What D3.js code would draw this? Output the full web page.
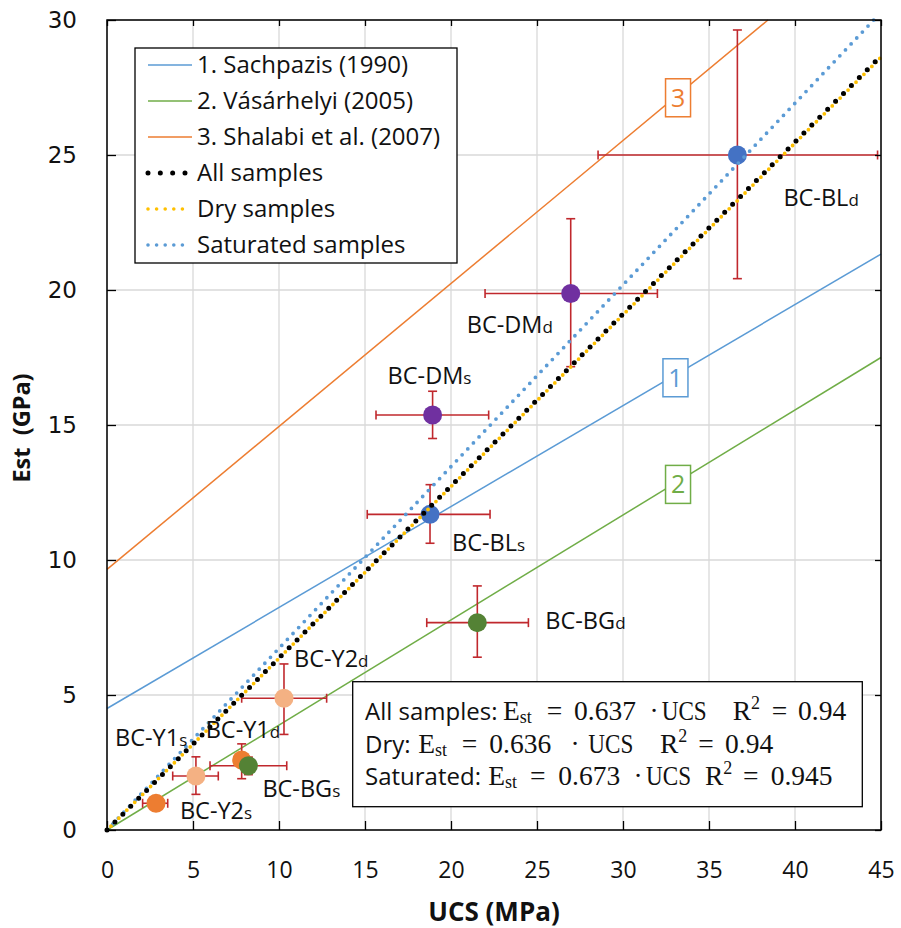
<!DOCTYPE html>
<html><head><meta charset="utf-8">
<script src="https://cdn.jsdelivr.net/npm/d3@7"></script>
<style>body{margin:0;background:#fff}svg{display:block}</style>
</head><body>
<svg id="c" width="901" height="928"></svg>
<script>
// ---------- DATA ----------
const sampleNames = ["BC-BL","BC-DM","BC-DM","BC-BL","BC-BG","BC-Y2","BC-Y1","BC-BG","BC-Y2","BC-Y1"];
const sampleSubs  = ["d","d","s","s","d","d","d","s","s","s"];
const sampleGroup = ["BL","DM","DM","BL","BG","Y2","Y1","BG","Y2","Y1"];
const ucs    = [36.65, 26.96, 18.93, 18.78, 21.53, 10.29, 7.83, 8.22, 5.17, 2.85];
const est    = [25.00, 19.87, 15.37, 11.69,  7.68,  4.88, 2.59, 2.38, 2.00, 0.99];
const ucsLo  = [28.55, 21.98, 15.64, 15.13, 18.59,  7.83, 7.45, 5.99, 3.82, 2.07];
const ucsHi  = [44.80, 32.00, 22.19, 22.27, 24.50, 12.77, 8.25, 10.45, 6.47, 3.53];
const estLo  = [20.42, 17.16, 14.50, 10.62,  6.40,  3.54, 1.90, 2.05, 1.32, 0.80];
const estHi  = [29.63, 22.64, 16.25, 12.79,  9.04,  6.15, 3.19, 2.70, 2.71, 1.20];

const refNames = ["1. Sachpazis (1990)","2. Vásárhelyi (2005)","3. Shalabi et al. (2007)"];
const refNums  = ["1","2","3"];
const refX = [[0,45],[0,45],[0,38.43]];
const refY = [[4.5,21.33],[0,17.5],[9.65,30]];
const refLabelX = [33.05, 33.2, 33.2];

const fitNames = ["All samples","Dry samples","Saturated samples"];
const fitX = [[0,45],[0,45],[0,44.58]];
const fitY = [[0,28.67],[0,28.62],[0,30]];

const eqnLabels = ["All samples:","Dry:","Saturated:"];
const eqnCoef   = ["0.637","0.636","0.673"];
const eqnR2     = ["0.94","0.94","0.945"];

const xTicks = [0,5,10,15,20,25,30,35,40,45];
const yTicks = [0,5,10,15,20,25,30];
const xTitle = "UCS (MPa)";
const yTitle = "Est\u00a0\u00a0(GPa)";

// ---------- LAYOUT / STYLE ----------
const svg = d3.select("#c");
const L=107,R=881,T=20,B=830;
const x = d3.scaleLinear().domain([0,45]).range([L,R]);
const y = d3.scaleLinear().domain([0,30]).range([B,T]);
const sans = "'Open Sans', 'Noto Sans', sans-serif";
const serif = "'Liberation Serif', 'DejaVu Serif', serif";
const groupColor = d3.scaleOrdinal().domain(["BL","DM","BG","Y1","Y2"])
  .range(["#4472C4","#7030A0","#548235","#ED7D31","#F4B183"]);
const refColors = ["#5B9BD5","#70AD47","#ED7D31"];
const errColor = "#C0282D";

// gridlines
const grid = svg.append("g");
grid.selectAll("line.gx").data(xTicks).join("line")
  .attr("x1",d=>x(d)).attr("x2",d=>x(d)).attr("y1",T).attr("y2",B)
  .attr("stroke","#d9d9d9").attr("stroke-width",1.3);
grid.selectAll("line.gy").data(yTicks).join("line")
  .attr("x1",L).attr("x2",R).attr("y1",d=>y(d)).attr("y2",d=>y(d))
  .attr("stroke","#d9d9d9").attr("stroke-width",1.3);

const line = d3.line().x(d=>x(d[0])).y(d=>y(d[1]));
const pairs = (xs,ys)=>xs.map((v,i)=>[v,ys[i]]);

// reference lines
svg.append("g").selectAll("path").data(refNames).join("path")
  .attr("d",(d,i)=>line(pairs(refX[i],refY[i])))
  .attr("fill","none").attr("stroke",(d,i)=>refColors[i]).attr("stroke-width",1.5);

// error bars
const eb = svg.append("g").attr("stroke",errColor).attr("stroke-width",1.6).attr("fill","none");
const cap = 4.5;
ucs.forEach((u,i)=>{
  const g = eb.append("g");
  g.append("line").attr("x1",x(ucsLo[i])).attr("x2",x(ucsHi[i])).attr("y1",y(est[i])).attr("y2",y(est[i]));
  g.append("line").attr("x1",x(ucsLo[i])).attr("x2",x(ucsLo[i])).attr("y1",y(est[i])-cap).attr("y2",y(est[i])+cap);
  g.append("line").attr("x1",x(ucsHi[i])).attr("x2",x(ucsHi[i])).attr("y1",y(est[i])-cap).attr("y2",y(est[i])+cap);
  g.append("line").attr("x1",x(u)).attr("x2",x(u)).attr("y1",y(estLo[i])).attr("y2",y(estHi[i]));
  g.append("line").attr("x1",x(u)-cap).attr("x2",x(u)+cap).attr("y1",y(estLo[i])).attr("y2",y(estLo[i]));
  g.append("line").attr("x1",x(u)-cap).attr("x2",x(u)+cap).attr("y1",y(estHi[i])).attr("y2",y(estHi[i]));
});

// points
svg.append("g").selectAll("circle").data(ucs).join("circle")
  .attr("cx",d=>x(d)).attr("cy",(d,i)=>y(est[i])).attr("r",9.5)
  .attr("fill",(d,i)=>groupColor(sampleGroup[i]));

// fit lines (saturated, dry, all — drawn in that order)
const fitStroke = ["#000000","#FFC000","#5B9BD5"];
const fitWidth  = [5, 3.8, 3.8];
const fitDash   = ["0 11.2","0 5.6","0 8.2"];
const fitG = svg.append("g");
[2,1,0].forEach(i=>{
  fitG.append("path").attr("d",line(pairs(fitX[i],fitY[i])))
    .attr("fill","none").attr("stroke",fitStroke[i])
    .attr("stroke-width",fitWidth[i])
    .attr("stroke-dasharray",fitDash[i])
    .attr("stroke-linecap","round");
});

// numbered boxes on reference lines
refNums.forEach((n,i)=>{
  const xv = refLabelX[i];
  const t = (xv-refX[i][0])/(refX[i][1]-refX[i][0]);
  const yv = refY[i][0] + t*(refY[i][1]-refY[i][0]);
  const cx = x(xv), cy = y(yv)+3;
  svg.append("rect").attr("x",cx-12.5).attr("y",cy-19).attr("width",25).attr("height",38)
    .attr("fill","#fff").attr("stroke",refColors[i]).attr("stroke-width",1.5);
  svg.append("text").attr("x",cx).attr("y",cy+9).attr("text-anchor","middle")
    .attr("font-family",sans).attr("font-size",25).attr("fill",refColors[i]).text(n);
});

// point labels
const labelOff = [[46,51],[-104,39],[-45,-31],[22,37],[68,6],[10,-31],[-36,-22],[14,31],[-16,43],[-41,-57]];
sampleNames.forEach((nm,i)=>{
  const t = svg.append("text").attr("x",x(ucs[i])+labelOff[i][0]).attr("y",y(est[i])+labelOff[i][1])
    .attr("font-family",sans).attr("font-size",23.5).attr("fill","#111");
  t.append("tspan").text(nm);
  t.append("tspan").attr("font-size",17).text(sampleSubs[i]);
});

// legend
const lg = svg.append("g");
lg.append("rect").attr("x",135).attr("y",48).attr("width",322).attr("height",215)
  .attr("fill","#fff").attr("stroke","#000").attr("stroke-width",1.3);
const legNames = refNames.concat(fitNames);
legNames.forEach((nm,i)=>{
  const cy = 65 + i*36;
  if(i<3){
    lg.append("line").attr("x1",148).attr("x2",192).attr("y1",cy).attr("y2",cy)
      .attr("stroke",refColors[i]).attr("stroke-width",1.5);
  } else if(i===3){
    lg.append("line").attr("x1",148).attr("x2",185).attr("y1",cy).attr("y2",cy)
      .attr("stroke","#000").attr("stroke-width",5).attr("stroke-dasharray","0 12.33").attr("stroke-linecap","round");
  } else {
    lg.append("line").attr("x1",148).attr("x2",191).attr("y1",cy).attr("y2",cy)
      .attr("stroke",i===4?"#FFC000":"#5B9BD5").attr("stroke-width",3.6).attr("stroke-dasharray","0 8.6").attr("stroke-linecap","round");
  }
  lg.append("text").attr("x",197).attr("y",cy+8).attr("font-family",sans).attr("font-size",24)
    .attr("fill","#111").text(nm);
});

// equation box
svg.append("rect").attr("x",352.7).attr("y",681.7).attr("width",509.6).attr("height",125)
  .attr("fill","#fff").attr("stroke","#000").attr("stroke-width",1.3);
const eqBase = [720,752.7,785];
const eqX = [
  [503,546.7,574,654,661.7,732.7,771.7,798],
  [418.3,461.7,489.3,575,588.3,660,698.3,725],
  [488.3,530,558.3,638,646,705,743,770.7]
];
eqnLabels.forEach((lab,i)=>{
  const by = eqBase[i], p = eqX[i];
  const g = svg.append("g").attr("fill","#111");
  g.append("text").attr("x",365).attr("y",by).attr("font-family",sans).attr("font-size",24).text(lab);
  const s = (xx,txt,anchor)=>g.append("text").attr("x",xx).attr("y",by).attr("font-family",serif)
      .attr("font-size",27.5).attr("text-anchor",anchor||"start").text(txt);
  const e = s(p[0],"E"); e.append("tspan").attr("font-size",18).attr("dy",3).text("st");
  s(p[1],"=");
  s(p[2],eqnCoef[i]);
  s(p[3],"·","middle");
  s(p[4],"UCS").attr("textLength",45).attr("lengthAdjust","spacingAndGlyphs");
  const r = s(p[5],"R"); r.append("tspan").attr("font-size",18).attr("dy",-11).text("2");
  s(p[6],"=");
  s(p[7],eqnR2[i]);
});

// axes (inward ticks on all sides)
const ax = svg.append("g");
const bx = ax.append("g").attr("transform",`translate(0,${B})`)
  .call(d3.axisBottom(x).tickValues(xTicks).tickSizeInner(-9).tickSizeOuter(0).tickPadding(32));
bx.selectAll("text").attr("font-family",sans).attr("font-size",23).attr("fill","#111");
const ly = ax.append("g").attr("transform",`translate(${L},0)`)
  .call(d3.axisLeft(y).tickValues(yTicks).tickSizeInner(-9).tickSizeOuter(0).tickPadding(30));
ly.selectAll("text").attr("font-family","'DejaVu Sans', sans-serif").attr("font-size",23).attr("fill","#111");
ax.append("g").attr("transform",`translate(0,${T})`)
  .call(d3.axisTop(x).tickValues(xTicks).tickSizeInner(-6).tickSizeOuter(0).tickFormat(""));
ax.append("g").attr("transform",`translate(${R},0)`)
  .call(d3.axisRight(y).tickValues(yTicks).tickSizeInner(-6).tickSizeOuter(0).tickFormat(""));
ax.selectAll(".domain").remove();
ax.selectAll(".tick line").attr("stroke","#000").attr("stroke-width",1.3);
svg.append("rect").attr("x",L).attr("y",T).attr("width",R-L).attr("height",B-T)
  .attr("fill","none").attr("stroke","#000").attr("stroke-width",1.5);

// titles
svg.append("text").attr("x",494).attr("y",921).attr("text-anchor","middle")
  .attr("font-family",sans).attr("font-weight","bold").attr("font-size",26).attr("fill","#111").text(xTitle);
svg.append("text").attr("transform","translate(30,428) rotate(-90)").attr("text-anchor","middle")
  .attr("font-family",sans).attr("font-weight","bold").attr("font-size",23.5).attr("fill","#111").text(yTitle);
</script>
</body></html>
